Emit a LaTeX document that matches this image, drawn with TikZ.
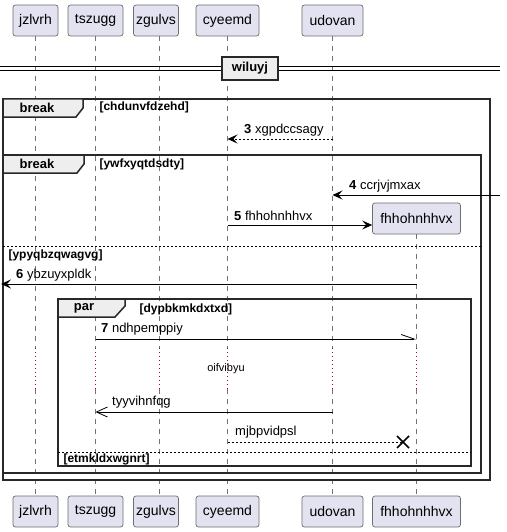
\documentclass[tikz,border=0pt]{standalone}
\usepackage{fontspec}
\setmainfont{Liberation Sans}
\usetikzlibrary{arrows.meta,calc}
\definecolor{partfill}{RGB}{226,226,240}
\definecolor{partdraw}{RGB}{110,110,110}
\definecolor{tabfill}{RGB}{238,238,238}
\definecolor{delayred}{RGB}{168,0,54}
\definecolor{framecol}{RGB}{40,40,40}
\tikzset{
  part/.style={draw=partdraw, line width=0.7pt, fill=partfill, rounded corners=2.5pt,
    minimum height=31, inner xsep=0, font=\fontsize{14}{16}\selectfont},
  life/.style={draw=gray!90!black, line width=0.6pt, dash pattern=on 5pt off 5pt},
  lifedelay/.style={draw=delayred, line width=1pt, dash pattern=on 1.2pt off 2.8pt},
  frm/.style={draw=framecol, line width=1.5pt},
  tabbox/.style={draw=framecol, line width=1.5pt, fill=tabfill},
  tablbl/.style={font=\bfseries\fontsize{13}{15}\selectfont},
  cond/.style={anchor=west, font=\bfseries\fontsize{12}{14}\selectfont},
  elsesep/.style={draw=black, line width=0.8pt, dash pattern=on 2pt off 2pt},
  msg/.style={draw=black, line width=0.9pt},
  dmsg/.style={draw=black, line width=0.9pt, dash pattern=on 2pt off 2pt},
  fullhead/.style={-{Stealth[length=10pt,width=9pt,inset=4pt]}},
  openhead/.style={-{Straight Barb[length=11pt,width=10pt,line width=0.8pt]}},
  halfhead/.style={-{Straight Barb[left,length=13pt,width=9pt,line width=0.8pt]}},
  mlbl/.style={anchor=west, inner sep=0, font=\fontsize{13}{15}\selectfont},
}
\begin{document}
\begin{tikzpicture}[x=1pt,y=-1pt]
\useasboundingbox[fill=white] (0,0) rectangle (506,532);

% participants (top)
\node[part, minimum width=45] (jt) at (35.5,20.5) {jzlvrh};
\node[part, minimum width=55] (tt) at (95.5,20.5) {tszugg};
\node[part, minimum width=45] (zt) at (156,20.5) {zgulvs};
\node[part, minimum width=63] (ct) at (227.5,20.5) {cyeemd};
\node[part, minimum width=61] (ut) at (332.5,20.5) {udovan};
% participants (bottom)
\node[part, minimum width=45] (jb) at (35.5,511.5) {jzlvrh};
\node[part, minimum width=55] (tb) at (95.5,511.5) {tszugg};
\node[part, minimum width=45] (zb) at (156,511.5) {zgulvs};
\node[part, minimum width=63] (cb) at (227.5,511.5) {cyeemd};
\node[part, minimum width=61] (ub) at (332.5,511.5) {udovan};
\node[part, minimum width=88] (fb) at (416.5,511.5) {fhhohnhhvx};
% created participant
\node[part, minimum width=88] (fc) at (416.5,218.5) {fhhohnhhvx};

% delay band coordinates
\coordinate (d1) at (0,348);
\coordinate (d2) at (0,389);

% lifelines
\foreach \n/\s in {j/0,t/0,z/3,c/0,u/0}{
  \draw[life] ([xshift=\s]\n t.south) -- ([xshift=\s]\n t.south |- d1);
  \draw[lifedelay] ([xshift=\s]\n t.south |- d1) -- ([xshift=\s]\n t.south |- d2);
  \draw[life] ([xshift=\s]\n t.south |- d2) -- ([xshift=\s]\n b.north);
}
\draw[life] (fc.south) -- (fc.south |- d1);
\draw[lifedelay] (fc.south |- d1) -- (fc.south |- d2);
\draw[life] (fc.south |- d2) -- (fb.north);

% divider
\coordinate (dvl1) at (0,67);
\coordinate (dvr1) at (500,67);
\coordinate (dvl2) at (0,70.5);
\coordinate (dvr2) at (500,70.5);
\draw[line width=1pt] (dvl1) -- (dvr1);
\draw[line width=1pt] (dvl2) -- (dvr2);
\node[tabbox, line width=1.3pt, minimum width=56, minimum height=23, inner sep=0,
  font=\bfseries\fontsize{13}{15}\selectfont] (div) at (250,68.5) {wiluyj};

% outer break frame
\draw[frm] (3,99) rectangle (490,480);
\draw[tabbox] (3,99) -- (83,99) -- (83,108) -- (76,117) -- (3,117) -- cycle;
\node[tablbl] (b1) at (37,108) {break};
\node[cond] (c1) at (96,107.5) {[chdunvfdzehd]};

% inner break frame
\draw[frm] (3,155) rectangle (481,473);
\draw[tabbox] (3,155) -- (84,155) -- (84,164) -- (77,173) -- (3,173) -- cycle;
\node[tablbl] (b2) at (37,164) {break};
\node[cond] (c2) at (96,164) {[ywfxyqtdsdty]};
\draw[elsesep] (3,246) -- (481,246);
\node[cond] (c3) at (5,255.5) {[ypyqbzqwagvg]};

% par frame
\draw[frm] (58,299) rectangle (471,466);
\draw[tabbox] (58,299) -- (125,299) -- (125,306) -- (115,317) -- (58,317) -- cycle;
\node[tablbl] (b3) at (84,308) {par};
\node[cond] (c4) at (136,309) {[dypbkmkdxtxd]};
\draw[elsesep] (58,452) -- (471,452);
\node[cond] (c5) at (60,459.5) {[etmkldxwgnrt]};

% message 3
\coordinate (m3a) at (ut.south |- 0,139);
\coordinate (m3b) at (ct.south |- 0,139);
\draw[dmsg, fullhead] (m3a) -- (m3b);
\node[mlbl] (l3) at (244,130) {\textbf{3} xgpdccsagy};

% message 4
\coordinate (m4a) at (500,195);
\coordinate (m4b) at (ut.south |- 0,195);
\draw[msg, fullhead] (m4a) -- (m4b);
\node[mlbl] (l4) at (349,186) {\textbf{4} ccrjvjmxax};

% message 5 (create)
\coordinate (m5a) at (ct.south |- 0,225);
\draw[msg, fullhead] (m5a) -- (fc.west |- m5a);
\node[mlbl] (l5) at (234,216) {\textbf{5} fhhohnhhvx};

% message 6
\coordinate (m6a) at (fc.south |- 0,284);
\coordinate (m6b) at (1,284);
\draw[msg, fullhead] (m6a) -- (m6b);
\node[mlbl] (l6) at (16,275) {\textbf{6} ybzuyxpldk};

% message 7
\coordinate (m7a) at (tt.south |- 0,339);
\coordinate (m7b) at (fc.south |- 0,339);
\draw[msg, halfhead] (m7a) -- (m7b);
\node[mlbl] (l7) at (101,329) {\textbf{7} ndhpemppiy};

% delay text
\node[font=\fontsize{11}{13}\selectfont, inner sep=0] (dl) at (226,369) {oifvibyu};

% message tyyvihnfqg
\coordinate (m8a) at (ut.south |- 0,412);
\coordinate (m8b) at (tt.south |- 0,412);
\draw[msg, openhead] (m8a) -- (m8b);
\node[mlbl] (l8) at (112,402) {tyyvihnfqg};

% message mjbpvidpsl (destroy)
\coordinate (m9a) at (ct.south |- 0,442);
\coordinate (m9b) at (403,442);
\draw[dmsg] (m9a) -- (m9b);
\draw[line width=1.6pt] ($(m9b)+(-6,-6)$) -- ($(m9b)+(6,6)$);
\draw[line width=1.6pt] ($(m9b)+(-6,6)$) -- ($(m9b)+(6,-6)$);
\node[mlbl] (l9) at (235,432) {mjbpvidpsl};
\end{tikzpicture}
\end{document}
